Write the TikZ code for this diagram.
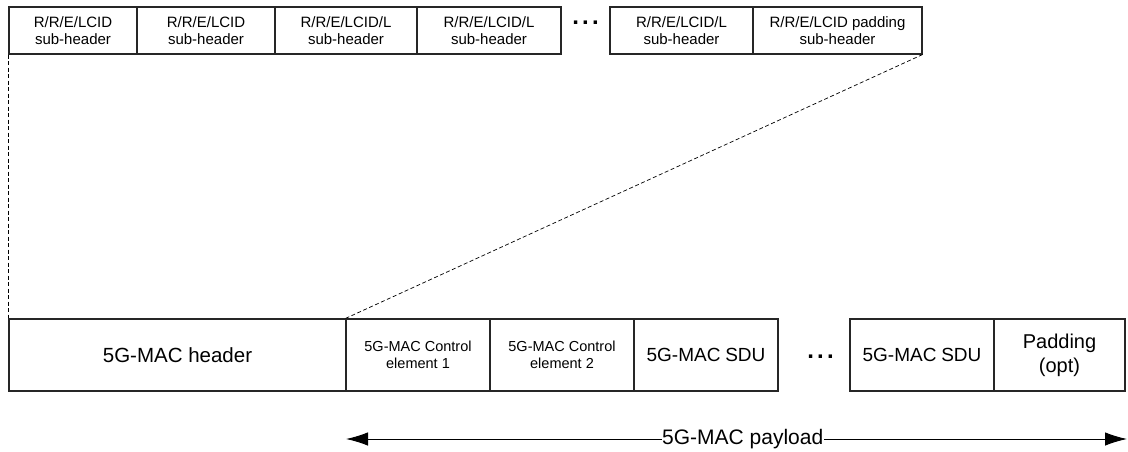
\documentclass[tikz,border=0pt]{standalone}
\usepackage{fontspec}
\setmainfont{Liberation Sans}
\usetikzlibrary{arrows.meta}
\tikzset{paytip/.tip={Latex[length=22pt,width=13.5pt]}}
\begin{document}
\begin{tikzpicture}[x=1pt,y=-1pt,
  box/.style={draw=black!85, line width=1.1pt, inner sep=0pt, align=center, anchor=center},
  subhdr/.style={box, minimum height=47pt, font=\fontsize{15}{16.5}\selectfont},
  pdu/.style={box, minimum height=72pt},
  small/.style={font=\fontsize{14.5}{17}\selectfont},
  big/.style={font=\fontsize{20}{24}\selectfont},
  guide/.style={draw=black, line width=0.7pt, dash pattern=on 4pt off 2.5pt},
  dotsnode/.style={inner sep=0pt, anchor=base, font=\fontsize{24}{24}\selectfont\bfseries}]
\useasboundingbox (0,0) rectangle (1128,452);
% top row of sub-headers
\node[subhdr, minimum width=128pt] (h1) at (73,30.5) {R/R/E/LCID\\sub-header};
\node[subhdr, minimum width=138pt] (h2) at (206,30.5) {R/R/E/LCID\\sub-header};
\node[subhdr, minimum width=142pt] (h3) at (346,30.5) {R/R/E/LCID/L\\sub-header};
\node[subhdr, minimum width=144pt] (h4) at (489,30.5) {R/R/E/LCID/L\\sub-header};
\node[dotsnode] (hd) at (585.5,25) {.\kern3.2pt.\kern3.2pt.};
\node[subhdr, minimum width=143pt] (h5) at (681.5,30.5) {R/R/E/LCID/L\\sub-header};
\node[subhdr, minimum width=169pt] (h6) at (837.5,30.5) {R/R/E/LCID padding\\sub-header};
% bottom row: MAC PDU
\node[pdu, big, minimum width=337pt, font=\fontsize{20.5}{24}\selectfont] (b1) at (177.5,355) {5G-MAC header};
\node[pdu, small, minimum width=144pt] (b2) at (418,355) {5G-MAC Control\\element 1};
\node[pdu, small, minimum width=144pt] (b3) at (562,355) {5G-MAC Control\\element 2};
\node[pdu, minimum width=144pt, font=\fontsize{19}{22}\selectfont] (b4) at (706,355) {5G-MAC\kern-0.5pt\ SDU};
\node[dotsnode] (bd) at (820.5,358) {.\kern3.2pt.\kern3.2pt.};
\node[pdu, minimum width=144pt, font=\fontsize{19}{22}\selectfont] (b5) at (922,355) {5G-MAC\kern-0.5pt\ SDU};
\node[pdu, big, minimum width=131pt] (b6) at (1059.5,355) {Padding\\(opt)};
% dashed guide lines
\draw[guide] (h1.south west) -- (b1.north west);
\draw[guide] (h6.south east) -- (b2.north west);
% payload arrow
\coordinate (pl) at (346,439);
\coordinate (pr) at (1127,439);
\draw[line width=1pt, paytip-paytip] (pl) -- (pr)
  node[pos=0.508, fill=white, inner xsep=0.5pt, inner ysep=1pt, font=\fontsize{21}{24}\selectfont] (pay) {5G-MAC payload};
\end{tikzpicture}
\end{document}
